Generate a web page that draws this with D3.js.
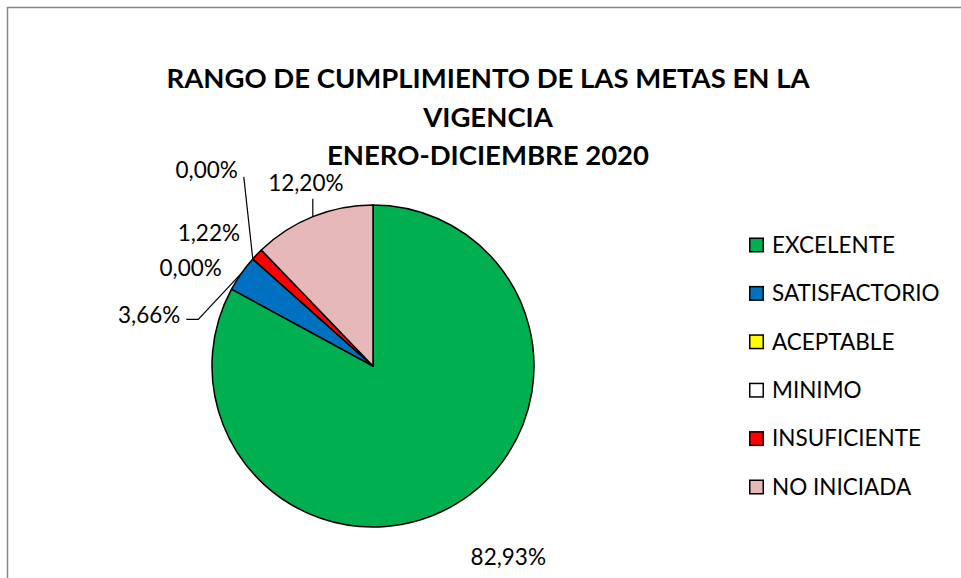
<!DOCTYPE html>
<html>
<head>
<meta charset="utf-8">
<script src="https://cdn.jsdelivr.net/npm/d3@7"></script>
<style>
  body { margin: 0; background: #fff; }
  svg { display: block; font-family: Lato, "Noto Sans", sans-serif; }
</style>
</head>
<body>
<div id="chart"></div>
<script>
// data
const categories = ["EXCELENTE", "SATISFACTORIO", "ACEPTABLE", "MINIMO", "INSUFICIENTE", "NO INICIADA"];
const values = [82.93, 3.66, 0.00, 0.00, 1.22, 12.20];
const colors = ["#00B050", "#0070C0", "#FFFF00", "#FFFFFF", "#FF0000", "#E6B9B8"];
const titleLines = ["RANGO DE CUMPLIMIENTO DE LAS METAS EN LA", "VIGENCIA", "ENERO-DICIEMBRE 2020"];

// label placement, offset from the rim point at each slice's middle angle
// [dx, dy, anchor, leader elbow or null]
const labelLayout = [
  [53, 53, "middle", null],
  [-61, 42, "end", [-43, 46]],
  [-31, 9, "end", null],
  [-15, -89, "end", [-9, -82]],
  [-17, -21, "end", null],
  [-7, -34, "middle", [0, -18]]
];

const width = 961, height = 578;
const cx = 373, cy = 366, radius = 161;

const svg = d3.select("#chart").append("svg")
    .attr("width", width)
    .attr("height", height);

svg.append("rect")
    .attr("x", 7.5).attr("y", 7.5)
    .attr("width", width).attr("height", height)
    .attr("fill", "#fff")
    .attr("stroke", "#878787")
    .attr("stroke-width", 1.5);

// title
svg.append("g")
    .selectAll("text")
    .data(titleLines)
    .join("text")
    .attr("x", 488)
    .attr("y", (d, i) => 88 + i * 38.5)
    .attr("text-anchor", "middle")
    .attr("font-weight", "bold")
    .attr("font-size", 27.5)
    .attr("fill", "#000")
    .text(d => d);

const rows = categories.map((c, i) => ({ name: c, value: values[i], color: colors[i], layout: labelLayout[i] }));

const pie = d3.pie().sort(null).value(d => d.value);
const arcs = pie(rows);
const arc = d3.arc().innerRadius(0).outerRadius(radius);

const g = svg.append("g").attr("transform", `translate(${cx},${cy})`);

g.selectAll("path.slice")
    .data(arcs)
    .join("path")
    .attr("class", "slice")
    .attr("d", arc)
    .attr("fill", d => d.data.color)
    .attr("stroke", "#000")
    .attr("stroke-width", 1.5)
    .attr("stroke-linejoin", "round");

function rim(d, r) {
  const a = (d.startAngle + d.endAngle) / 2;
  return [r * Math.sin(a), -r * Math.cos(a)];
}

const fmt = v => d3.format(".2f")(v).replace(".", ",") + "%";

// leader lines
g.selectAll("path.leader")
    .data(arcs.filter(d => d.data.layout[3]))
    .join("path")
    .attr("class", "leader")
    .attr("fill", "none")
    .attr("stroke", "#000")
    .attr("stroke-width", 1.2)
    .attr("d", d => {
      const p = rim(d, radius);
      const L = d.data.layout;
      const e = [p[0] + L[3][0], p[1] + L[3][1]];
      const t = [p[0] + L[0] + (L[2] === "end" ? 6 : 0), p[1] + L[1] + 5];
      if (L[2] === "end") return `M${p[0]},${p[1]}L${e[0]},${e[1]}L${t[0]},${e[1]}`;
      return `M${p[0]},${p[1]}L${e[0]},${e[1]}`;
    });

g.selectAll("text.label")
    .data(arcs)
    .join("text")
    .attr("class", "label")
    .attr("x", d => rim(d, radius)[0] + d.data.layout[0])
    .attr("y", d => rim(d, radius)[1] + d.data.layout[1])
    .attr("dy", "0.35em")
    .attr("text-anchor", d => d.data.layout[2])
    .attr("font-size", 22.5)
    .attr("fill", "#000")
    .text(d => fmt(d.data.value));

// legend
const legend = svg.append("g")
    .selectAll("g")
    .data(rows)
    .join("g")
    .attr("transform", (d, i) => `translate(749,${245 + i * 48.4})`);

legend.append("rect")
    .attr("x", 0.75).attr("y", -6.75)
    .attr("width", 13.5).attr("height", 13.5)
    .attr("fill", d => d.color)
    .attr("stroke", "#000")
    .attr("stroke-width", 1.5);

legend.append("text")
    .attr("x", 23)
    .attr("dy", "0.35em")
    .attr("font-size", 22.5)
    .attr("fill", "#000")
    .text(d => d.name);
</script>
</body>
</html>
